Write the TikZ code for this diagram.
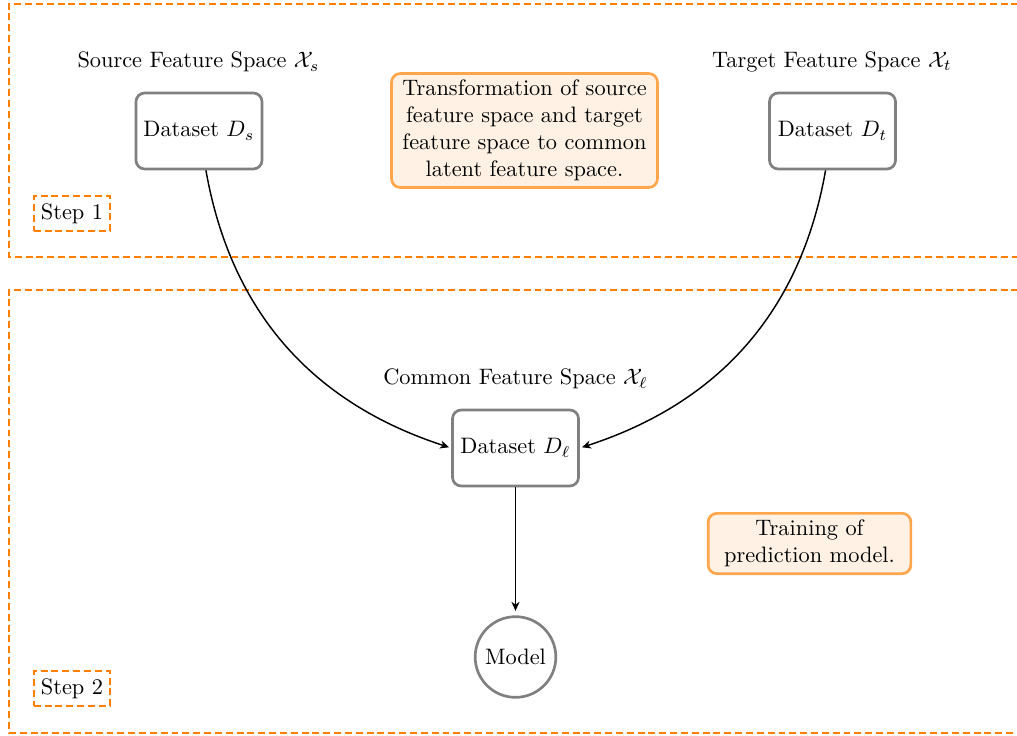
\documentclass[tikz,border=0pt]{standalone}
\usetikzlibrary{arrows.meta}
\begin{document}
\begin{tikzpicture}[x=0.4475pt,y=-0.4475pt,
  databox/.style={draw=gray,very thick,rounded corners=3.9pt,fill=white,minimum width=56.4pt,minimum height=34pt,inner sep=3pt},
  notebox/.style={draw=orange!70,fill=orange!10,very thick,rounded corners=3.9pt,align=center,inner sep=3pt},
  stepbox/.style={draw=orange,line width=0.9pt,dash pattern=on 3.1pt off 1.75pt,inner sep=3.2pt},
  region/.style={draw=orange,line width=0.9pt,dash pattern=on 3.1pt off 1.75pt},
  conn/.style={line width=0.65pt,-{Stealth[length=4pt,width=3.6pt,inset=1.2pt]}}]
\useasboundingbox (0,0) rectangle (1017,735);
\draw[region] (1040,4) -- (9,4) -- (9,257) -- (1040,257);
\draw[region] (1040,290) -- (9,290) -- (9,733) -- (1040,733);
\node[stepbox] (s1) at (72,213.5) {Step 1};
\node[stepbox] (s2) at (72,688.5) {Step 2};
\node (ls) at (198.5,62) {Source Feature Space $\mathcal{X}_s$};
\node (lt) at (832,62) {Target Feature Space $\mathcal{X}_t$};
\node (ll) at (515.5,379) {Common Feature Space $\mathcal{X}_\ell$};
\node[databox] (Ds) at (199,131) {Dataset $D_s$};
\node[databox] (Dt) at (832.5,131) {Dataset $D_t$};
\node[databox] (Dl) at (515.5,448) {Dataset $D_\ell$};
\node[draw=gray,very thick,circle,minimum size=36.1pt,inner sep=1pt] (M) at (515.5,657) {Model};
\node[notebox,minimum width=119pt] (tr) at (524.5,130.5) {Transformation of source\\feature space and target\\feature space to common\\latent feature space.};
\node[notebox,minimum width=90.7pt] (tp) at (809.5,543.5) {Training of\\prediction model.};
\draw[conn,shorten >=1pt] (Ds) to[out=-80,in=162] (Dl.west);
\draw[conn,shorten >=1pt] (Dt) to[out=-100,in=18] (Dl.east);
\draw[conn,shorten >=2pt] (Dl) -- (M);
\end{tikzpicture}
\end{document}
